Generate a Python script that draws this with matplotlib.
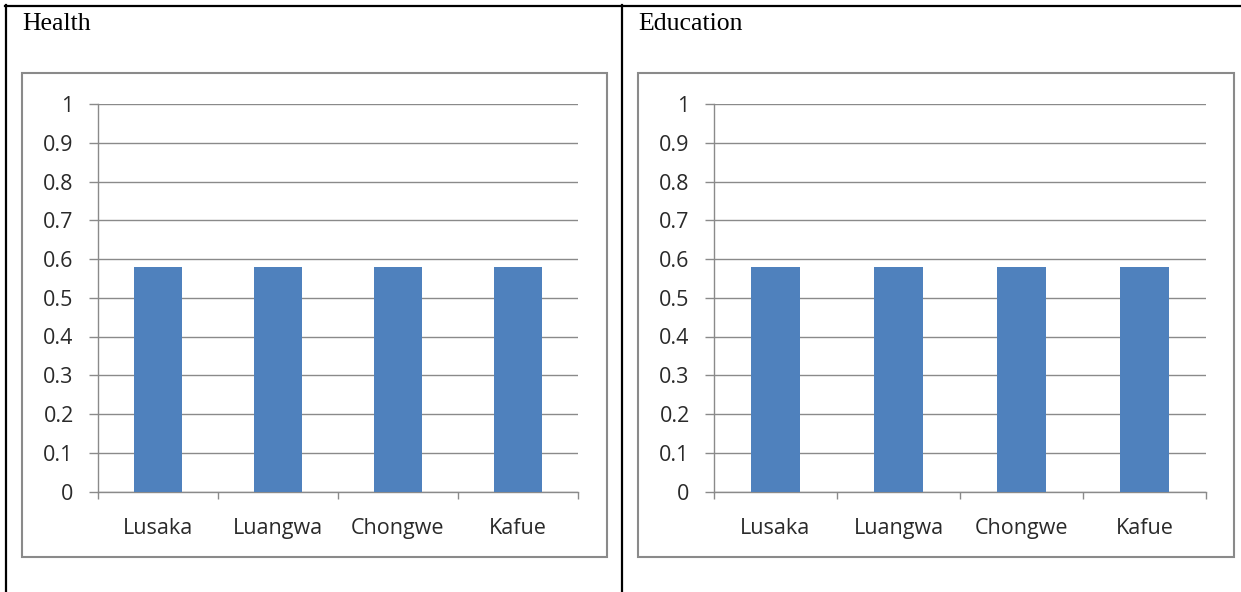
import matplotlib
matplotlib.use("Agg")
import matplotlib.pyplot as plt
from matplotlib.lines import Line2D
from matplotlib.patches import Rectangle

# data
districts = ["Lusaka", "Luangwa", "Chongwe", "Kafue"]
health = [0.58, 0.58, 0.58, 0.58]
education = [0.58, 0.58, 0.58, 0.58]
yticks = [0, 0.1, 0.2, 0.3, 0.4, 0.5, 0.6, 0.7, 0.8, 0.9, 1]
ytick_labels = ["0", "0.1", "0.2", "0.3", "0.4", "0.5", "0.6", "0.7", "0.8", "0.9", "1"]
panel_titles = ["Health", "Education"]

W, H = 1241, 592
fig = plt.figure(figsize=(W / 100, H / 100), dpi=100)
fig.patch.set_facecolor("white")

def fx(px):
    return px / W

def fy(py):
    return 1 - py / H

grey = "#8a8a8a"
bar_col = "#4f81bd"

# table lines
fig.add_artist(Line2D([fx(5), fx(W)], [fy(6), fy(6)], color="black", lw=1.6))
fig.add_artist(Line2D([fx(6), fx(6)], [fy(5), fy(H)], color="black", lw=1.6))
fig.add_artist(Line2D([fx(621.5), fx(621.5)], [fy(5), fy(H)], color="black", lw=1.6))

# chart frames
for x0, x1 in [(22, 607), (638, 1234)]:
    fig.add_artist(Rectangle((fx(x0), fy(557)), fx(x1 - x0), (557 - 73) / H,
                             transform=fig.transFigure, fill=False,
                             edgecolor=grey, lw=1.5))

fig.text(fx(22), fy(30), panel_titles[0], family="Liberation Serif", fontsize=18.5, va="baseline")
fig.text(fx(638), fy(30), panel_titles[1], family="Liberation Serif", fontsize=18.5, va="baseline")

def draw_panel(rect, values):
    ax = fig.add_axes(rect)
    x = range(len(districts))
    ax.bar(x, values, width=0.4, color=bar_col, zorder=3)
    ax.set_xlim(-0.5, len(districts) - 0.5)
    ax.set_ylim(0, 1)
    ax.set_yticks(yticks)
    ax.set_yticklabels(ytick_labels)
    ax.yaxis.grid(True, color=grey, lw=1)
    ax.set_axisbelow(True)
    ax.set_xticks(list(x))
    ax.set_xticklabels(districts)
    ax.set_xticks([i - 0.5 for i in range(len(districts) + 1)], minor=True)
    for s in ["top", "right"]:
        ax.spines[s].set_visible(False)
    for s in ["left", "bottom"]:
        ax.spines[s].set_color(grey)
        ax.spines[s].set_linewidth(1)
    ax.tick_params(axis="y", length=6.5, width=1, color=grey, pad=11,
                   labelsize=15.5, labelcolor="#2a2a2a")
    ax.tick_params(axis="x", which="major", length=0, pad=19,
                   labelsize=15.5, labelcolor="#2a2a2a")
    ax.tick_params(axis="x", which="minor", length=5, width=1, color=grey)
    for lab in ax.get_xticklabels() + ax.get_yticklabels():
        lab.set_family("Open Sans")
    return ax

bottom = fy(491.5)
height = 387.5 / H
draw_panel([fx(98), bottom, fx(480), height], health)
draw_panel([fx(714), bottom, fx(492), height], education)

fig.savefig("out.png", dpi=100)
